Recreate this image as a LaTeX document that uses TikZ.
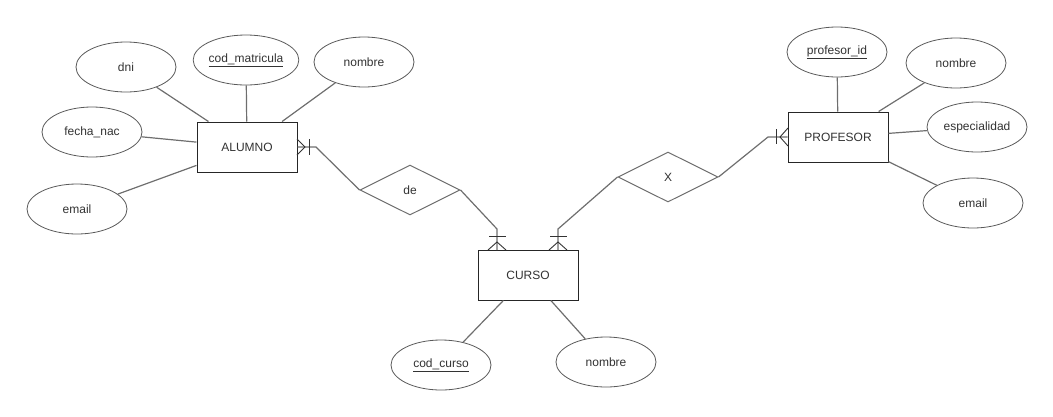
\documentclass[tikz,border=0pt]{standalone}
\usepackage{fontspec}
\setmainfont{Liberation Sans}
\usetikzlibrary{shapes.geometric}
\definecolor{txt}{HTML}{333333}
\definecolor{edge}{HTML}{6E6E6E}
\definecolor{rim}{HTML}{5A5A5A}
\begin{document}
\begin{tikzpicture}[x=1pt,y=-1pt,
  lbl/.style={text=txt, font=\fontsize{12}{14}\selectfont},
  entity/.style={lbl, draw=black!85, line width=1pt, fill=white,
    minimum width=100pt, minimum height=50pt, inner sep=0pt},
  attr/.style={lbl, ellipse, draw=rim, line width=0.8pt, fill=white,
    minimum width=100pt, minimum height=50pt, inner sep=0pt},
  rel/.style={lbl, diamond, draw=edge, line width=1pt, fill=white,
    minimum width=100pt, minimum height=50pt, inner sep=0pt},
  link/.style={draw=edge, line width=1.2pt},
  foot/.style={draw=black!80, line width=0.9pt}
]
\useasboundingbox (0,0) rectangle (1053,416);

% entities
\node[entity] (alumno)   at (247,147) {ALUMNO};
\node[entity] (curso)    at (528,275) {CURSO};
\node[entity] (profesor) at (838,137) {PROFESOR};

% relationships
\node[rel] (de) at (410,190) {de};
\node[rel] (x)  at (668,177) {X};

% attributes of ALUMNO
\node[attr] (dni)     at (126,67)  {dni};
\node[attr] (codmat)  at (246,60)  {\underline{cod\_matricula}};
\node[attr] (nomA)    at (364,62)  {nombre};
\node[attr] (fecha)   at (92,132)  {fecha\_nac};
\node[attr] (emailA)  at (77,209)  {email};

% attributes of PROFESOR
\node[attr] (profid)  at (837,52)  {\underline{profesor\_id}};
\node[attr] (nomP)    at (956,63)  {nombre};
\node[attr] (espec)   at (977,127) {especialidad};
\node[attr] (emailP)  at (973,203) {email};

% attributes of CURSO
\node[attr] (codcur)  at (441,365) {\underline{cod\_curso}};
\node[attr] (nomC)    at (606,362) {nombre};

% attribute links
\foreach \a in {dni,codmat,nomA,fecha,emailA}
  \draw[link] (\a) -- (alumno);
\foreach \a in {profid,nomP,espec,emailP}
  \draw[link] (\a) -- (profesor);
\foreach \a in {codcur,nomC}
  \draw[link] (\a) -- (curso);

% bend points of the relationship connectors
\coordinate (aBend)  at (316,147);
\coordinate (cBendL) at (497,229);
\coordinate (cBendR) at (558,229);
\coordinate (pBend)  at (768,137);
\coordinate (cTopL)  at (497,250);
\coordinate (cTopR)  at (558,250);

% relationship connectors
\draw[link] (alumno.east) -- (aBend) -- (de.west);
\draw[link] (de.east) -- (cBendL) -- (cTopL);
\draw[link] (x.west) -- (cBendR) -- (cTopR);
\draw[link] (x.east) -- (pBend) -- (profesor.west);

% crow's feet: one-or-many
\draw[foot] (297,139) -- (305,147) -- (297,155);
\draw[foot] (309,139) -- (309,155);

\draw[foot] (488,250) -- (497,242) -- (506,250);
\draw[foot] (489,236) -- (506,236);

\draw[foot] (549,250) -- (558,242) -- (567,250);
\draw[foot] (550,236) -- (567,236);

\draw[foot] (788,128) -- (780,137) -- (788,146);
\draw[foot] (776,129) -- (776,144);
\end{tikzpicture}
\end{document}
